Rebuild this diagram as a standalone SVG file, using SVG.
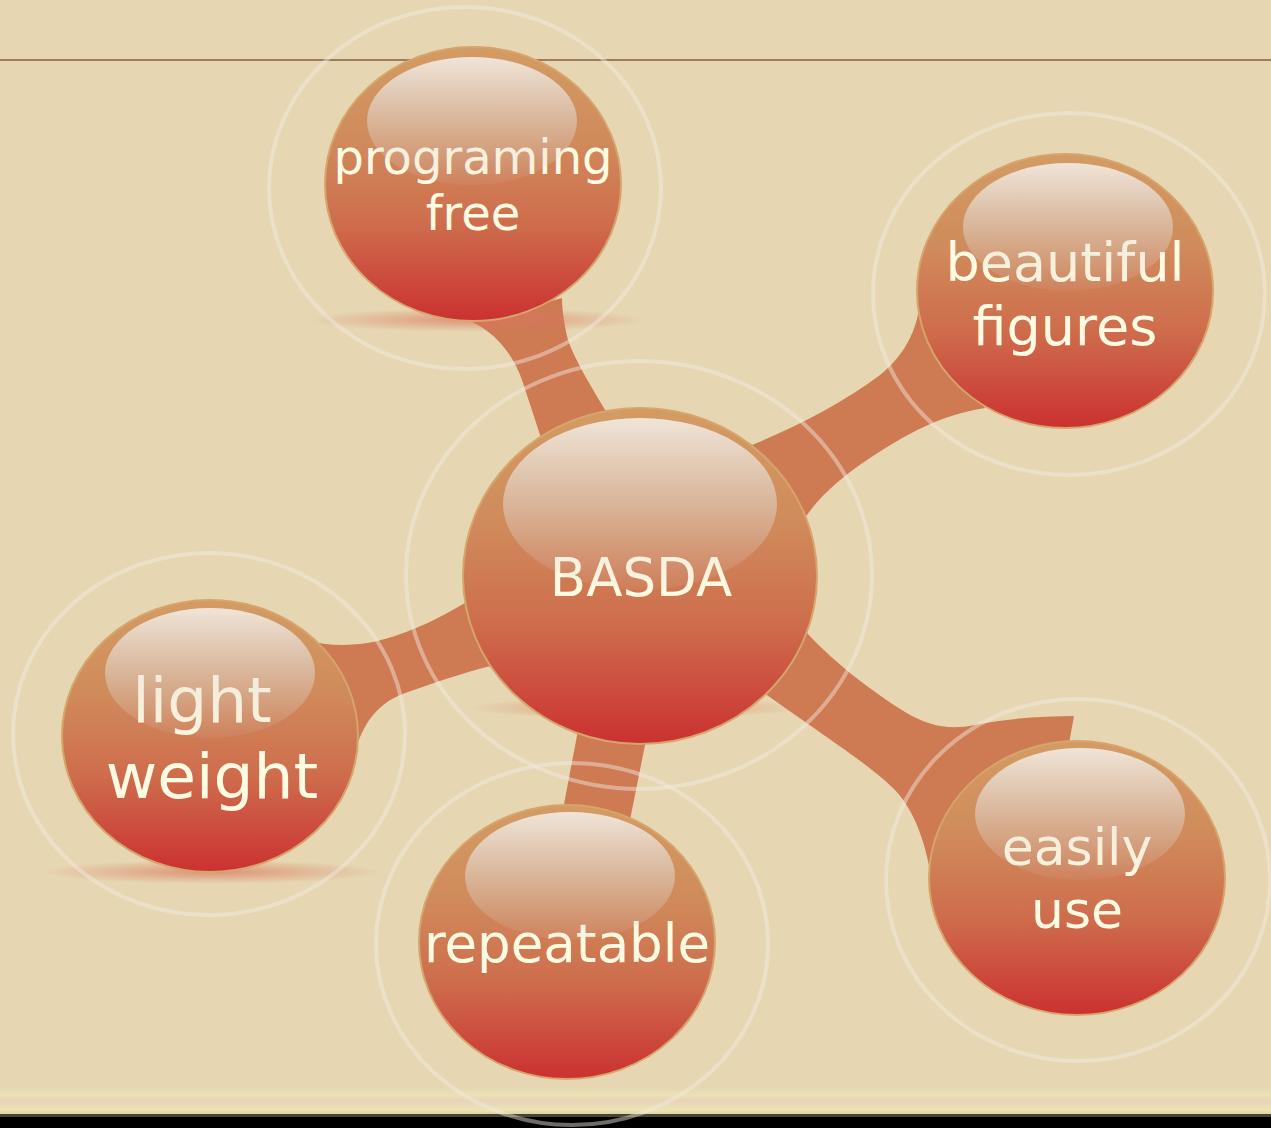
<svg xmlns="http://www.w3.org/2000/svg" width="1271" height="1128" viewBox="0 0 1271 1128">
  <defs>
    <linearGradient id="ball" x1="0" y1="0" x2="0" y2="1">
      <stop offset="0" stop-color="#D39C63"/>
      <stop offset="0.35" stop-color="#D08A5B"/>
      <stop offset="0.65" stop-color="#CE6C4C"/>
      <stop offset="1" stop-color="#CB3131"/>
    </linearGradient>
    <linearGradient id="gloss" x1="0" y1="0" x2="0" y2="1">
      <stop offset="0" stop-color="#F2E8DE" stop-opacity="0.95"/>
      <stop offset="0.5" stop-color="#E2DCD6" stop-opacity="0.5"/>
      <stop offset="1" stop-color="#D6C6BE" stop-opacity="0.08"/>
    </linearGradient>
    <radialGradient id="shade">
      <stop offset="0" stop-color="#D9765E" stop-opacity="0.7"/>
      <stop offset="1" stop-color="#D9765E" stop-opacity="0"/>
    </radialGradient>
    <linearGradient id="foot" x1="0" y1="0" x2="0" y2="1">
      <stop offset="0" stop-color="#E6D7B2"/>
      <stop offset="0.25" stop-color="#EAE1B4"/>
      <stop offset="0.5" stop-color="#E8D4B8"/>
      <stop offset="0.85" stop-color="#EBE4B4"/>
      <stop offset="1" stop-color="#DCD3A2"/>
    </linearGradient>
  </defs>
  <style>
    .halo { fill: none; stroke: #F4ECE2; stroke-opacity: 0.45; stroke-width: 4; }
    .body { fill: url(#ball); stroke: #D6A46C; stroke-width: 2; }
    .gloss { fill: url(#gloss); }
    .shade { fill: url(#shade); }
    .label { font-family: "DejaVu Sans", "Liberation Sans", sans-serif; fill: #FFFBE3; text-anchor: middle; }
    .link { fill: #CE7A53; }
  </style>

  <!-- page -->
  <rect x="0" y="0" width="1271" height="1128" fill="#E6D7B2"/>
  <line x1="0" y1="60" x2="1271" y2="60" stroke="#9C7E5E" stroke-width="2"/>
  <rect x="0" y="1088" width="1271" height="26" fill="url(#foot)"/>
  <rect x="0" y="1114" width="1271" height="3" fill="#4A4430"/>
  <rect x="0" y="1117" width="1271" height="11" fill="#000000"/>

  <!-- connectors -->
  <g id="connectors">
    <path class="link" d="M472,322 C500,335 515,360 522,380 L545,450 L610,418 C590,385 575,360 568,340 C563,320 562,305 562,298 Z"/>
    <path class="link" d="M740,450 C790,430 840,405 880,375 C905,355 917,330 920,302 L985,408 C940,415 905,435 870,458 C840,478 818,497 800,525 Z"/>
    <path class="link" d="M305,640 C335,648 365,646 395,636 C425,626 450,612 470,600 L495,665 C465,672 430,684 400,695 C375,706 362,725 352,760 Z"/>
    <path class="link" d="M578,730 L648,730 L630,820 L562,815 Z"/>
    <path class="link" d="M800,625 C830,660 870,690 905,712 C930,727 950,730 975,725 C1010,718 1045,716 1074,716 L1066,760 L935,900 C928,850 918,815 895,790 C870,765 830,740 760,690 Z"/>
  </g>

  <!-- floor shadows -->
  <g id="shadows">
    <ellipse class="shade" cx="477" cy="320" rx="172" ry="12"/>
    <ellipse class="shade" cx="635" cy="708" rx="168" ry="11"/>
    <ellipse class="shade" cx="212" cy="872" rx="172" ry="12"/>
  </g>

  <g id="node-programing">
    <ellipse class="halo" cx="465" cy="188" rx="196" ry="181"/>
    <ellipse class="body" cx="473" cy="184" rx="148" ry="137"/>
    <text class="label" x="473" y="174" font-size="48">programing</text>
    <text class="label" x="473" y="230" font-size="48">free</text>
    <ellipse class="gloss" cx="472" cy="121" rx="105" ry="64"/>
  </g>

  <g id="node-beautiful">
    <ellipse class="halo" cx="1069" cy="294" rx="196" ry="181"/>
    <ellipse class="body" cx="1065" cy="291" rx="148" ry="137"/>
    <text class="label" x="1065" y="281" font-size="54">beautiful</text>
    <text class="label" x="1065" y="345" font-size="54">figures</text>
    <ellipse class="gloss" cx="1068" cy="227" rx="105" ry="64"/>
  </g>

  <g id="node-basda">
    <ellipse class="halo" cx="639" cy="575" rx="233" ry="214"/>
    <ellipse class="body" cx="640" cy="576" rx="177" ry="168"/>
    <text class="label" x="641" y="596" font-size="53">BASDA</text>
    <ellipse class="gloss" cx="640" cy="504" rx="137" ry="86"/>
  </g>

  <g id="node-light">
    <ellipse class="halo" cx="209" cy="734" rx="196" ry="181"/>
    <ellipse class="body" cx="210" cy="736" rx="148" ry="136"/>
    <text class="label" x="202" y="722" font-size="63">light</text>
    <text class="label" x="212" y="798" font-size="63">weight</text>
    <ellipse class="gloss" cx="210" cy="673" rx="105" ry="65"/>
  </g>

  <g id="node-repeatable">
    <ellipse class="halo" cx="572" cy="944" rx="196" ry="181"/>
    <ellipse class="body" cx="567" cy="942" rx="148" ry="137"/>
    <text class="label" x="567" y="962" font-size="53">repeatable</text>
    <ellipse class="gloss" cx="570" cy="876" rx="105" ry="64"/>
  </g>

  <g id="node-easily">
    <ellipse class="halo" cx="1078" cy="880" rx="192" ry="181"/>
    <ellipse class="body" cx="1077" cy="878" rx="148" ry="137"/>
    <text class="label" x="1077" y="865" font-size="52">easily</text>
    <text class="label" x="1077" y="928" font-size="52">use</text>
    <ellipse class="gloss" cx="1080" cy="814" rx="105" ry="66"/>
  </g>
</svg>
